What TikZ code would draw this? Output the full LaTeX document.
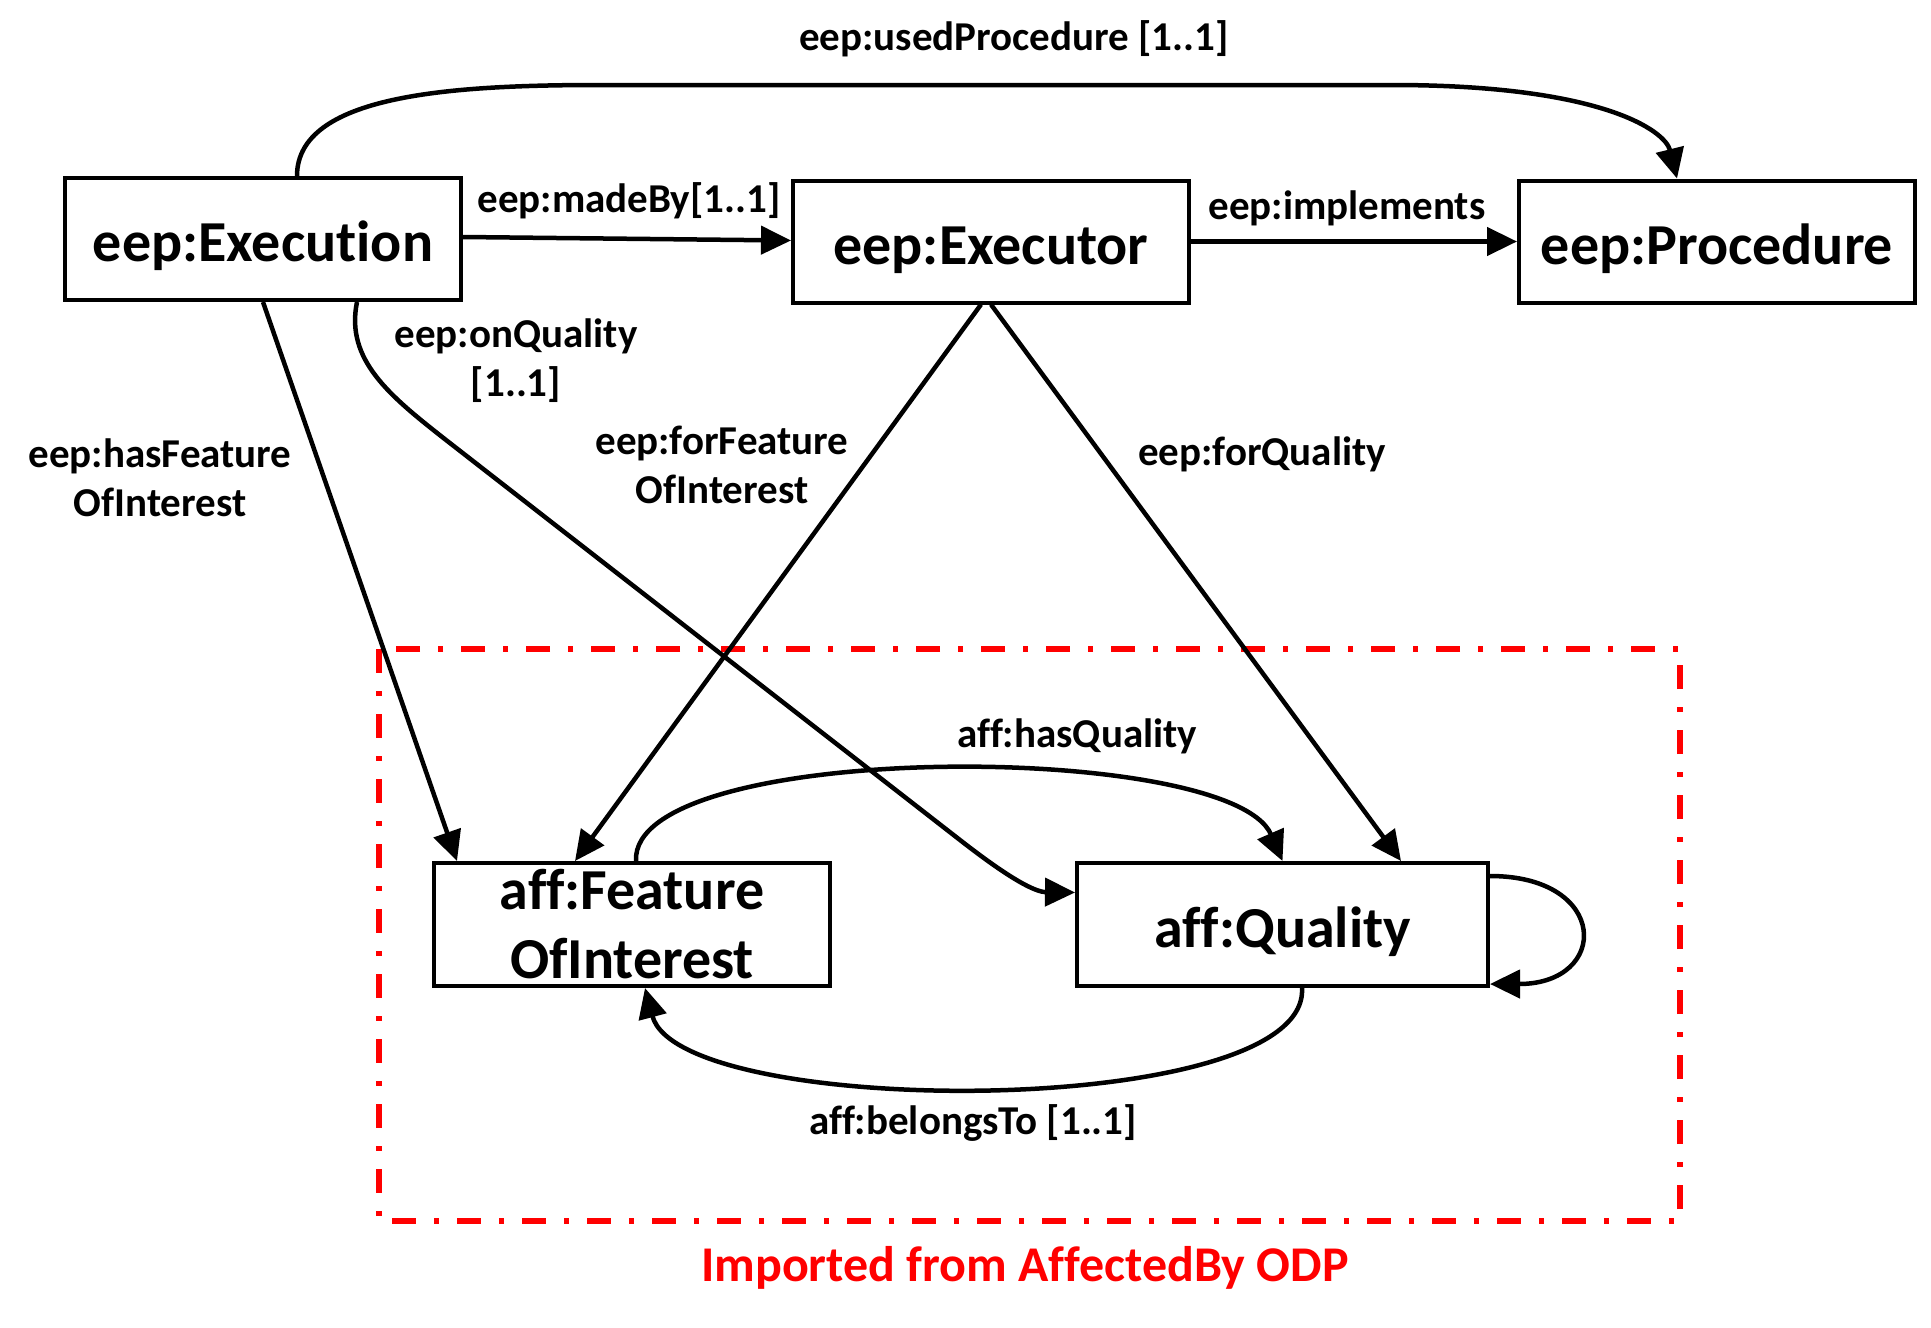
\documentclass[tikz,border=0pt]{standalone}
\usepackage{fontspec}
\setmainfont{Carlito}[Ligatures={NoCommon}]
\usetikzlibrary{arrows.meta}
\begin{document}
\begin{tikzpicture}[x=1pt,y=-1pt,
  box/.style={draw=black, line width=4pt, fill=white, inner sep=0pt, align=center,
    font=\fontsize{58}{69}\selectfont\bfseries},
  onebox/.style={box, text height=45pt, text depth=0pt},
  lbl/.style={inner sep=0pt, align=center, font=\fontsize{41}{49}\selectfont\bfseries},
  rel/.style={draw=black, line width=4.5pt, -{Triangle[length=30pt,width=28pt]}},
  odp/.style={draw=red, line width=6pt, dash pattern=on 24pt off 18pt on 5pt off 18pt}]
\useasboundingbox (0,0) rectangle (1931,1328);
% boxes
\node[onebox, minimum width=396pt, minimum height=122pt] (exec) at (263,239) {eep:Execution};
\node[onebox, minimum width=396pt, minimum height=122pt] (executor) at (991,241.5) {eep:Executor};
\node[onebox, minimum width=396pt, minimum height=122pt] (proc) at (1717,241.5) {eep:Procedure};
\node[box, minimum width=396pt, minimum height=123pt] (foi) at (632,924.5) {aff:Feature\\OfInterest};
\node[onebox, minimum width=411pt, minimum height=123pt] (qual) at (1282.5,924.5) {aff:Quality};
% imported frame
\draw[odp] (379,649) rectangle (1680,1221);
\node[inner sep=0pt, text=red, font=\fontsize{50}{60}\selectfont\bfseries] (imp) at (1025,1268) {Imported from AffectedBy ODP};
% edges
\draw[rel] ([xshift=34pt]exec.north) .. controls (297,95) and (450,85) .. (600,85) -- (1392,85)
  .. controls (1600,85) and (1665,130) .. ([xshift=-40pt]proc.north);
\node[lbl] (lused) at (1014,39) {eep:usedProcedure [1..1]};
\draw[rel] ([yshift=2pt]exec.east) -- ([yshift=1pt]executor.west);
\node[lbl] (lmade) at (629,201) {eep:madeBy[1..1]};
\draw[rel] (executor.east) -- (proc.west);
\node[lbl] (limpl) at (1347,208) {eep:implements};
\draw[rel] (exec.south) -- ([xshift=-175pt]foi.north);
\node[lbl] (lhas) at (160,478) {eep:hasFeature\\OfInterest};
\draw[rel] ([xshift=94pt]exec.south) .. controls (345,360) and (390,396) .. (446,440) -- (960,840)
  .. controls (1010,879) and (1035,892) .. ([yshift=32pt]qual.west);
\node[lbl] (lonq) at (516,361) {eep:onQuality\\{}[1..1]};
\draw[rel] ([xshift=-10pt]executor.south) -- ([xshift=-57pt]foi.north);
\node[lbl] (lforf) at (722,465) {eep:forFeature\\OfInterest};
\draw[rel] (executor.south) -- ([xshift=118.5pt]qual.north);
\node[lbl] (lforq) at (1262,454) {eep:forQuality};
\draw[rel] ([xshift=4pt]foi.north) .. controls (630,740) and (1230,740) .. (qual.north);
\node[lbl] (lhasq) at (1077,736) {aff:hasQuality};
\draw[rel] ([xshift=19.5pt]qual.south) .. controls (1310,1120) and (680,1120) .. ([xshift=13pt]foi.south);
\node[lbl] (lbel) at (973,1123) {aff:belongsTo [1..1]};
\draw[rel] ([yshift=48.5pt]qual.east) .. controls (1610,876) and (1610,984) .. ([yshift=-59.5pt]qual.east);
\end{tikzpicture}
\end{document}
